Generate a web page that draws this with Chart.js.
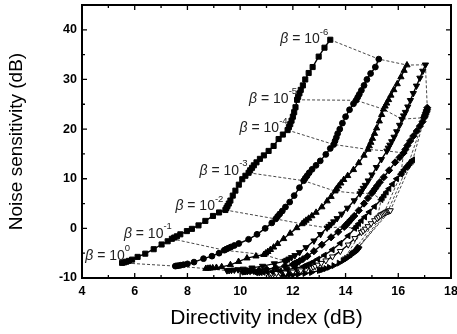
<!DOCTYPE html>
<html><head><meta charset="utf-8">
<script src="https://cdn.jsdelivr.net/npm/chart.js@4.4.0/dist/chart.umd.min.js"></script>
<style>html,body{margin:0;padding:0;background:#fff;}#wrap{width:457px;height:334px;}</style>
</head><body><div id="wrap"><canvas id="c" width="457" height="334"></canvas></div>
<script>
const xTicks=[4,6,8,10,12,14,16,18];
const xMinor=[5,7,9,11,13,15,17];
const yTicks=[-10,0,10,20,30,40];
const yMinor=[-5,5,15,25,35];
const betaExp=['0','-1','-2','-3','-4','-5','-6'];

const curve1=[[5.52,-6.95],[5.6,-6.85],[5.68,-6.72],[5.78,-6.55],[5.9,-6.3],[6.11,-5.75],[6.4,-5.1],[6.72,-4.2],[7.02,-3.25],[7.25,-2.6],
[7.41,-2.1],[7.5,-1.85],[7.6,-1.6],[7.73,-1.2],[7.98,-0.55],[8.17,-0.1],[8.42,0.6],[8.68,1.5],[8.97,2.5],[9.2,3.2],
[9.44,3.7],[9.48,4.1],[9.52,4.5],[9.57,5.0],[9.63,5.6],[9.72,6.6],[9.82,7.6],[9.95,8.8],[10.08,9.9],[10.2,10.6],
[10.32,11.2],[10.38,11.7],[10.45,12.2],[10.52,12.7],[10.62,13.3],[10.75,14.0],[10.9,14.7],[11.08,15.6],[11.27,16.6],[11.46,18.0],[11.62,18.9],
[11.8,19.8],[11.85,20.4],[11.9,21.0],[11.95,21.7],[12.0,22.5],[12.05,23.4],[12.1,24.4],
[12.16,25.9],[12.2,26.5],[12.25,27.2],[12.3,27.9],[12.38,28.8],[12.47,30.0],[12.6,31.3],[12.75,32.5],[12.98,34.6],[13.2,36.4],
[13.42,38.0]];
const curve2=[[7.54,-7.6],[7.6,-7.55],[7.67,-7.5],[7.75,-7.42],[7.85,-7.32],[8.0,-7.15],[8.25,-6.8],[8.61,-6.1],[8.93,-5.6],[9.2,-5.0],
[9.4,-4.4],[9.47,-4.2],[9.55,-4.0],[9.65,-3.75],[9.78,-3.45],[9.95,-3.05],[10.32,-2.2],[10.64,-1.2],[10.95,0.0],[11.2,1.1],
[11.35,1.9],[11.42,2.4],[11.5,2.9],[11.6,3.5],[11.72,4.3],[11.88,5.3],[12.05,6.6],[12.25,8.2],
[12.41,9.6],[12.47,10.1],[12.54,10.6],[12.62,11.2],[12.73,11.9],[12.88,12.7],[13.04,13.6],[13.25,14.9],[13.42,16.1],
[13.55,16.9],[13.6,17.6],[13.65,18.3],[13.7,19.1],[13.78,20.0],[13.88,21.2],[14.0,22.5],[14.15,23.9],[14.3,25.1],
[14.4,25.8],[14.46,26.4],[14.52,27.0],[14.6,27.8],[14.7,28.8],[14.81,30.0],[14.95,31.2],[15.13,32.5],
[15.26,34.1]];
const curve3=[[8.7,-8.1],[8.78,-8.07],[8.86,-8.03],[8.96,-7.98],[9.1,-7.9],[9.3,-7.75],[9.63,-7.35],[9.94,-6.7],[10.26,-6.0],[10.6,-5.6],
[10.9,-5.3],[10.97,-5.0],[11.05,-4.7],[11.15,-4.3],[11.27,-3.8],[11.42,-3.1],[11.65,-2.1],[11.9,-1.0],[12.15,0.1],
[12.35,0.9],[12.42,1.25],[12.5,1.6],[12.6,2.0],[12.72,2.5],[12.88,3.2],[13.1,4.3],[13.3,5.5],[13.45,6.4],
[13.6,7.5],[13.66,8.0],[13.73,8.5],[13.82,9.1],[13.93,9.8],[14.08,10.6],[14.3,11.8],[14.5,13.2],[14.7,14.7],
[14.85,15.9],[14.9,16.6],[14.96,17.3],[15.02,18.1],[15.1,19.1],[15.18,20.2],[15.28,21.6],[15.37,22.9],
[15.44,24.0],[15.5,24.6],[15.56,25.2],[15.63,25.9],[15.72,26.8],[15.83,27.9],[15.96,29.1],[16.1,30.5],[16.22,31.8],
[16.33,32.9]];
const curve4=[[9.5,-8.5],[9.58,-8.47],[9.67,-8.43],[9.78,-8.38],[9.92,-8.3],[10.12,-8.18],[10.45,-7.95],[10.85,-7.6],[11.3,-7.1],
[11.7,-6.6],[11.77,-6.4],[11.85,-6.15],[11.95,-5.85],[12.08,-5.45],[12.25,-4.85],[12.5,-3.85],[12.8,-2.5],[13.05,-1.2],
[13.3,0.1],[13.37,0.45],[13.45,0.85],[13.55,1.35],[13.68,2.0],[13.85,2.9],[14.07,4.1],[14.33,5.6],
[14.55,7.0],[14.6,7.5],[14.67,8.1],[14.75,8.7],[14.86,9.6],[15.0,10.8],[15.17,12.3],[15.36,13.9],
[15.57,15.6],[15.62,16.2],[15.68,16.8],[15.75,17.5],[15.84,18.4],[15.94,19.5],[16.05,20.8],
[16.14,22.0],[16.2,22.7],[16.27,23.4],[16.36,24.5],[16.46,25.8],[16.57,27.2],[16.69,28.7],[16.82,30.3],[16.93,31.7],
[17.03,32.95]];
const curve5=[[10.1,-8.7],[10.18,-8.68],[10.27,-8.65],[10.38,-8.61],[10.52,-8.55],[10.72,-8.45],[11.0,-8.25],[11.35,-7.95],[11.7,-7.6],
[12.0,-7.3],[12.07,-7.1],[12.15,-6.9],[12.25,-6.6],[12.38,-6.2],[12.55,-5.6],[12.8,-4.6],[13.1,-3.3],[13.45,-1.8],[13.72,-0.7],
[13.95,0.3],[14.02,0.7],[14.1,1.15],[14.2,1.75],[14.33,2.5],[14.5,3.6],[14.7,5.0],[14.85,6.1],
[15.0,7.1],[15.05,7.5],[15.12,8.0],[15.2,8.6],[15.3,9.3],[15.45,10.3],[15.65,11.7],[15.88,13.3],[16.05,14.3],
[16.2,15.2],[16.27,15.9],[16.35,16.7],[16.45,17.6],[16.57,18.6],[16.7,19.6],[16.82,20.6],[16.92,21.5],
[16.98,22.3],[17.0,22.6],[17.03,22.95],[17.05,23.3],[17.07,23.6],[17.09,23.9],
[17.1,24.3]];
const curve6=[[10.6,-8.95],[10.68,-8.93],[10.77,-8.9],[10.88,-8.86],[11.02,-8.8],[11.22,-8.7],[11.5,-8.55],[11.8,-8.3],[12.1,-8.0],
[12.4,-7.7],[12.47,-7.55],[12.55,-7.35],[12.65,-7.1],[12.78,-6.75],[12.95,-6.2],[13.2,-5.4],[13.5,-4.3],[13.8,-3.0],[14.1,-1.5],
[14.35,0.0],[14.42,0.45],[14.5,0.95],[14.6,1.55],[14.73,2.3],[14.9,3.3],[15.1,4.4],
[15.35,5.8],[15.4,6.2],[15.47,6.7],[15.55,7.3],[15.65,8.0],[15.78,8.9],[15.94,10.0],
[16.1,10.9],[16.15,11.3],[16.22,11.8],[16.3,12.3],
[16.36,12.6],[16.4,12.9],[16.45,13.2],[16.5,13.5],
[16.55,13.8]];
const curve7=[[11.1,-9.1],[11.18,-9.09],[11.27,-9.07],[11.38,-9.04],[11.52,-9.0],[11.72,-8.93],[12.0,-8.75],[12.3,-8.5],[12.5,-8.25],
[12.7,-7.95],[12.77,-7.8],[12.85,-7.6],[12.95,-7.35],[13.08,-7.0],[13.25,-6.5],[13.5,-5.7],[13.8,-4.6],[14.1,-3.3],[14.35,-2.0],
[14.6,-0.8],[14.67,-0.5],[14.75,-0.1],[14.85,0.4],[14.97,1.0],[15.1,1.6],
[15.2,2.0],[15.26,2.3],[15.33,2.6],[15.4,2.85],
[15.45,3.0],[15.5,3.15],[15.55,3.3],
[15.6,3.4],[15.63,3.5],[15.66,3.55],
[15.7,3.6]];
const curve8=[[11.6,-9.25],[11.68,-9.27],[11.77,-9.29],[11.88,-9.3],[12.02,-9.3],[12.2,-9.25],[12.45,-9.1],[12.7,-8.9],
[13.0,-8.5],[13.07,-8.4],[13.15,-8.27],[13.25,-8.1],[13.38,-7.85],[13.55,-7.5],[13.75,-7.0],
[13.9,-6.5],[13.96,-6.3],[14.03,-6.05],[14.12,-5.75],
[14.2,-5.4],[14.25,-5.15],[14.3,-4.95],
[14.35,-4.8],[14.39,-4.55],[14.42,-4.35],
[14.45,-4.2],[14.47,-4.05],
[14.5,-3.8]];

// iso-beta points (beta = 10^0 ... 10^-6) across the curves
const iso0=[[5.52,-6.95],[7.54,-7.6],[8.7,-8.1],[9.5,-8.5],[10.1,-8.7],[10.6,-8.95],[11.1,-9.1],[11.6,-9.25]];
const iso1=[[7.41,-2.1],[9.4,-4.4],[10.9,-5.3],[11.7,-6.6],[12.0,-7.3],[12.4,-7.7],[12.7,-7.95],[13.0,-8.5]];
const iso2=[[9.44,3.7],[11.35,1.9],[12.35,0.9],[13.3,0.1],[13.95,0.3],[14.35,0.0],[14.6,-0.8],[13.9,-6.5]];
const iso3=[[10.32,11.2],[12.41,9.6],[13.6,7.5],[14.55,7.0],[15.0,7.1],[15.35,5.8],[15.2,2.0],[14.2,-5.4]];
const iso4=[[11.8,19.8],[13.55,16.9],[14.85,15.9],[15.57,15.6],[16.2,15.2],[16.1,10.9],[15.45,3.0],[14.35,-4.8]];
const iso5=[[12.16,25.9],[14.4,25.8],[15.44,24.0],[16.14,22.0],[16.98,22.3],[16.36,12.6],[15.6,3.4],[14.45,-4.2]];
const iso6=[[13.42,38.0],[15.26,34.1],[16.33,32.9],[17.03,32.95],[17.1,24.3],[16.55,13.8],[15.7,3.6],[14.5,-3.8]];

const curves=[curve1,curve2,curve3,curve4,curve5,curve6,curve7,curve8];
const isoLines=[iso0,iso1,iso2,iso3,iso4,iso5,iso6];

const FONT='"Liberation Sans", Arial, Helvetica, sans-serif';
const markers=[
 {s:'rect',r:3.6,rot:0,fill:'#000'},
 {s:'circle',r:2.9,rot:0,fill:'#000'},
 {s:'triangle',r:3.6,rot:0,fill:'#000'},
 {s:'triangle',r:3.6,rot:180,fill:'#000'},
 {s:'rectRot',r:3.6,rot:0,fill:'#000'},
 {s:'triangle',r:3.4,rot:270,fill:'#000'},
 {s:'triangle',r:3.4,rot:180,fill:'#fff'},
 {s:'triangle',r:3.4,rot:90,fill:'#000'}
];
const labelOffsets=[[8,-7],[0,-5],[-2,-3.5],[-1,-2],[0,-2],[0,-1],[-2,-0.5]];

const toXY=a=>a.map(p=>({x:p[0],y:p[1]}));
const datasets=[];
curves.forEach((c,i)=>{
  const m=markers[i];
  datasets.push({data:toXY(c),showLine:true,borderColor:'#000',borderWidth:1.4,tension:0,
    pointStyle:m.s,pointRadius:m.r,pointRotation:m.rot,pointBackgroundColor:m.fill,pointBorderColor:'#000',pointBorderWidth:1});
});
isoLines.forEach(l=>{
  datasets.push({data:toXY(l),showLine:true,borderColor:'#333',borderWidth:0.9,borderDash:[3,2],pointRadius:0,tension:0});
});

const framePlugin={
  id:'frame',
  afterDraw(chart){
    const {ctx,chartArea:a,scales:{x,y}}=chart;
    ctx.save();
    ctx.strokeStyle='#000';
    ctx.lineWidth=1.3;
    const tick=(vals,len,isX)=>{
      vals.forEach(v=>{
        ctx.beginPath();
        if(isX){const p=x.getPixelForValue(v);
          ctx.moveTo(p,a.bottom);ctx.lineTo(p,a.bottom-len);
          ctx.moveTo(p,a.top);ctx.lineTo(p,a.top+len);}
        else{const p=y.getPixelForValue(v);
          ctx.moveTo(a.left,p);ctx.lineTo(a.left+len,p);
          ctx.moveTo(a.right,p);ctx.lineTo(a.right-len,p);}
        ctx.stroke();
      });
    };
    tick(xTicks,5,true);tick(xMinor,3,true);tick(yTicks,5,false);tick(yMinor,3,false);
    ctx.lineWidth=2;
    ctx.strokeRect(a.left,a.top,a.right-a.left,a.bottom-a.top);
    ctx.restore();
  }
};
const labelPlugin={
  id:'betaLabels',
  afterDatasetsDraw(chart){
    const {ctx,scales:{x,y}}=chart;
    ctx.save();
    ctx.fillStyle='#222';
    ctx.textBaseline='middle';
    isoLines.forEach((l,k)=>{
      const px=x.getPixelForValue(l[0][0])+labelOffsets[k][0];
      const py=y.getPixelForValue(l[0][1])+labelOffsets[k][1];
      const fB='italic 14px '+FONT, fM='14px '+FONT, fS='9.5px '+FONT;
      ctx.font=fB;const wB=ctx.measureText('\u03B2').width;
      ctx.font=fM;const wM=ctx.measureText(' = 10').width;
      ctx.font=fS;const wS=ctx.measureText(betaExp[k]).width;
      let sx=px-(wB+wM+wS);
      ctx.textAlign='left';
      ctx.font=fB;ctx.fillText('\u03B2',sx,py);
      ctx.font=fM;ctx.fillText(' = 10',sx+wB,py);
      ctx.font=fS;ctx.fillText(betaExp[k],sx+wB+wM,py-7);
    });
    ctx.restore();
  }
};

new Chart(document.getElementById('c'),{
  type:'scatter',
  data:{datasets},
  options:{
    responsive:false,animation:false,devicePixelRatio:1,
    layout:{padding:{top:5,right:6,left:0,bottom:0}},
    plugins:{legend:{display:false},tooltip:{enabled:false}},
    scales:{
      x:{type:'linear',min:4,max:18,
        afterBuildTicks:s=>{s.ticks=xTicks.map(v=>({value:v}));},
        ticks:{font:{family:FONT,size:12.5,weight:'bold'},color:'#000',padding:6,maxRotation:0,autoSkip:false},
        grid:{display:false,drawTicks:false},border:{display:false},
        title:{display:true,text:'Directivity index (dB)',font:{family:FONT,size:21},color:'#000',padding:{top:0,bottom:3}},
        afterFit:s=>{s.height=56;s.paddingLeft=0;s.paddingRight=0;}
      },
      y:{type:'linear',min:-10,max:45,
        afterBuildTicks:s=>{s.ticks=yTicks.map(v=>({value:v}));},
        ticks:{font:{family:FONT,size:12.5,weight:'bold'},color:'#000',padding:5,autoSkip:false},
        grid:{display:false,drawTicks:false},border:{display:false},
        title:{display:true,text:'Noise sensitivity (dB)',font:{family:FONT,size:19},color:'#000',padding:{top:5,bottom:0}},
        afterFit:s=>{s.width=82;s.paddingTop=0;s.paddingBottom=0;}
      }
    }
  },
  plugins:[framePlugin,labelPlugin]
});
</script></body></html>
